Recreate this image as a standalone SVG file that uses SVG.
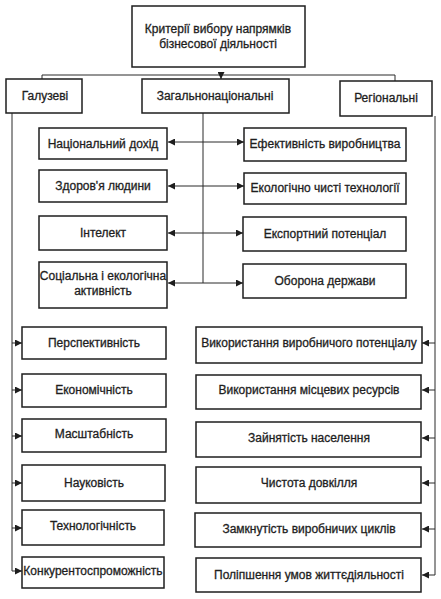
<svg xmlns="http://www.w3.org/2000/svg" width="441" height="599" viewBox="0 0 441 599">
<defs>
<marker id="ah" viewBox="0 0 10 10" refX="10" refY="5" markerWidth="7" markerHeight="7" markerUnits="userSpaceOnUse" orient="auto-start-reverse">
<path d="M0,0 L10,5 L0,10 z" fill="#1e1e1e"/>
</marker>
<style>
.b{fill:#fff;stroke:#1e1e1e;stroke-width:1.5}
.t{font-family:"Liberation Sans",Arial,sans-serif;font-size:12px;fill:#1e1e1e;stroke:#1e1e1e;stroke-width:0.3;text-anchor:middle}
.c{fill:none;stroke:#2a2a2a;stroke-width:1}
</style>
</defs>
<rect width="441" height="599" fill="#fff"/>
<g id="connectors">
<path class="c" d="M42,79 V75 H395 V81"/>
<path class="c" d="M221,75 V79" marker-end="url(#ah)"/>
<path class="c" d="M203,113 V283"/>
<path class="c" d="M168,142 H244" marker-start="url(#ah)" marker-end="url(#ah)"/>
<path class="c" d="M168,186 H244" marker-start="url(#ah)" marker-end="url(#ah)"/>
<path class="c" d="M168,233 H243" marker-start="url(#ah)" marker-end="url(#ah)"/>
<path class="c" d="M168,283 H243" marker-start="url(#ah)" marker-end="url(#ah)"/>
<path class="c" d="M12,113 V571"/>
<path class="c" d="M12,343 H22" marker-end="url(#ah)"/>
<path class="c" d="M12,390 H22" marker-end="url(#ah)"/>
<path class="c" d="M12,436 H22" marker-end="url(#ah)"/>
<path class="c" d="M12,483 H22" marker-end="url(#ah)"/>
<path class="c" d="M12,528 H22" marker-end="url(#ah)"/>
<path class="c" d="M12,571 H22" marker-end="url(#ah)"/>
<path class="c" d="M435,116 V575"/>
<path class="c" d="M435,343 H422" marker-end="url(#ah)"/>
<path class="c" d="M435,390 H422" marker-end="url(#ah)"/>
<path class="c" d="M435,438 H422" marker-end="url(#ah)"/>
<path class="c" d="M435,483 H422" marker-end="url(#ah)"/>
<path class="c" d="M435,529 H422" marker-end="url(#ah)"/>
<path class="c" d="M435,575 H422" marker-end="url(#ah)"/>
</g>
<g id="root"><rect class="b" x="132" y="6" width="173" height="61"/><text class="t" x="218" y="33">Критерії вибору напрямків</text><text class="t" x="218" y="48">бізнесової діяльності</text></g>
<g id="galuzevi"><rect class="b" x="6" y="79" width="76" height="34"/><text class="t" x="45" y="100">Галузеві</text></g>
<g id="zagalnonatsionalni"><rect class="b" x="142" y="79" width="147" height="34"/><text class="t" x="215" y="100">Загальнонаціональні</text></g>
<g id="rehionalni"><rect class="b" x="340" y="81" width="92" height="35"/><text class="t" x="386" y="102">Регіональні</text></g>
<g id="n1"><rect class="b" x="39" y="128" width="128" height="31"/><text class="t" x="103" y="148">Національний дохід</text></g>
<g id="n2"><rect class="b" x="39" y="170" width="128" height="32"/><text class="t" x="103" y="190">Здоров'я людини</text></g>
<g id="n3"><rect class="b" x="39" y="216" width="128" height="34"/><text class="t" x="103" y="237">Інтелект</text></g>
<g id="n4"><rect class="b" x="39" y="262" width="128" height="46"/><text class="t" x="103" y="280">Соціальна і екологічна</text><text class="t" x="103" y="295">активність</text></g>
<g id="m1"><rect class="b" x="244" y="128" width="162" height="33"/><text class="t" x="325" y="148">Ефективність виробництва</text></g>
<g id="m2"><rect class="b" x="244" y="173" width="162" height="31"/><text class="t" x="325" y="192">Екологічно чисті технології</text></g>
<g id="m3"><rect class="b" x="243" y="217" width="163" height="34"/><text class="t" x="325" y="238">Експортний потенціал</text></g>
<g id="m4"><rect class="b" x="243" y="264" width="163" height="34"/><text class="t" x="325" y="285">Оборона держави</text></g>
<g id="g1"><rect class="b" x="22" y="327" width="144" height="32"/><text class="t" x="94" y="347">Перспективність</text></g>
<g id="g2"><rect class="b" x="22" y="374" width="144" height="33"/><text class="t" x="94" y="394">Економічність</text></g>
<g id="g3"><rect class="b" x="22" y="419" width="144" height="33"/><text class="t" x="94" y="438">Масштабність</text></g>
<g id="g4"><rect class="b" x="22" y="465" width="143" height="36"/><text class="t" x="94" y="487">Науковість</text></g>
<g id="g5"><rect class="b" x="22" y="510" width="142" height="35"/><text class="t" x="93" y="530">Технологічність</text></g>
<g id="g6"><rect class="b" x="22" y="557" width="142" height="31"/><text class="t" x="93" y="575">Конкурентоспроможність</text></g>
<g id="r1"><rect class="b" x="196" y="327" width="226" height="36"/><text class="t" x="309" y="347">Використання виробничого потенціалу</text></g>
<g id="r2"><rect class="b" x="196" y="375" width="225" height="34"/><text class="t" x="309" y="394">Використання місцевих ресурсів</text></g>
<g id="r3"><rect class="b" x="196" y="422" width="225" height="35"/><text class="t" x="309" y="442">Зайнятість населення</text></g>
<g id="r4"><rect class="b" x="196" y="467" width="225" height="36"/><text class="t" x="309" y="487">Чистота довкілля</text></g>
<g id="r5"><rect class="b" x="195" y="513" width="226" height="34"/><text class="t" x="309" y="533">Замкнутість виробничих циклів</text></g>
<g id="r6"><rect class="b" x="196" y="558" width="225" height="34"/><text class="t" x="309" y="579">Поліпшення умов життєдіяльності</text></g>
</svg>
